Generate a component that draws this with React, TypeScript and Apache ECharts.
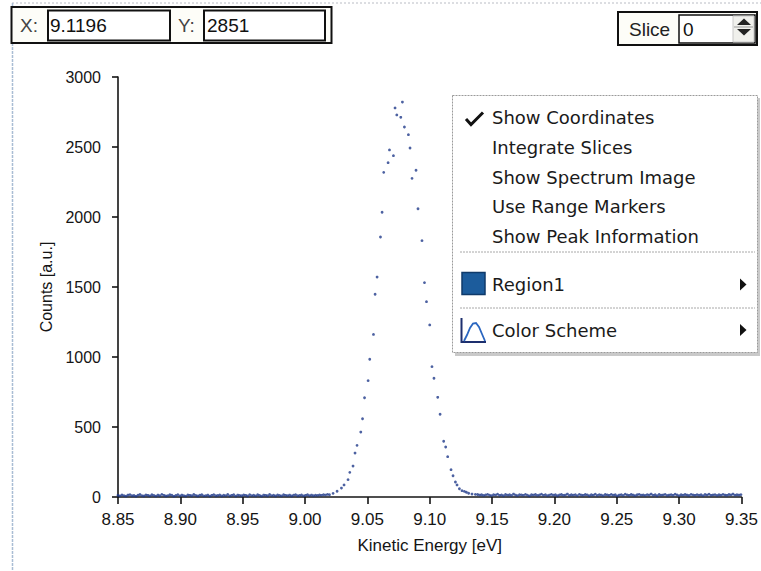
import React, { useEffect, useRef } from "react";
import * as echarts from "echarts";

// ---- data ----
const X_TICK_MIN = 8.85;
const X_TICK_MAX = 9.35;
const X_TICK_STEP = 0.05;
const Y_TICK_MIN = 0;
const Y_TICK_MAX = 3000;
const Y_TICK_STEP = 500;

// instrument sampling grid for the flat baselines
const BASE_LEFT_START = 8.85;
const BASE_RIGHT_START = 9.1384;
const BASE_STEP = 0.0016;

const baselineLeftCounts = [
  12, 8, 15, 10, 6, 14, 17, 9, 11, 5, 13, 18, 10, 7, 15, 12, 8, 16, 11, 6,
  14, 9, 19, 12, 7, 10, 16, 13, 5, 11, 17, 8, 14, 10, 6, 15, 12, 9, 18, 11,
  7, 13, 16, 8, 10, 14, 6, 12, 17, 9, 11, 15, 7, 13, 10, 18, 8, 12, 16, 6,
  14, 11, 9, 15, 12, 7, 17, 10, 13, 8, 16, 11, 6, 14, 12, 9, 18, 10, 13, 7,
  15, 11, 8, 16, 12, 10, 14, 7, 13, 17, 9, 11, 15, 8, 12, 16, 10, 14, 9, 13,
  11, 15, 12, 17, 14, 19, 16,
];

const peakEnergy = [
  9.0225, 9.0257, 9.0292, 9.0313, 9.0345, 9.0359, 9.0385, 9.0401, 9.0417, 9.0447,
  9.0461, 9.0477, 9.0506, 9.0519, 9.0549, 9.0562, 9.0578, 9.0605, 9.0618, 9.0631,
  9.0666, 9.0677, 9.0709, 9.0722, 9.0736, 9.0768, 9.0781, 9.0797, 9.0829, 9.0842,
  9.0858, 9.089, 9.0906, 9.0938, 9.0958, 9.0974, 9.1, 9.1018, 9.1034, 9.1064,
  9.1083, 9.1112, 9.1128, 9.1144, 9.1171, 9.1187, 9.1206, 9.1219, 9.1238, 9.1259,
  9.1278, 9.1294, 9.1312, 9.1339, 9.1366,
];
const peakCounts = [
  26, 41, 64, 86, 124, 176, 221, 314, 369, 464,
  559, 709, 831, 984, 1161, 1448, 1571, 1857, 2034, 2319,
  2388, 2479, 2438, 2779, 2729, 2712, 2821, 2643, 2588, 2493,
  2276, 2334, 2059, 1831, 1531, 1395, 1229, 931, 848, 712,
  591, 398, 357, 288, 195, 152, 107, 86, 59, 45,
  40, 34, 27, 21, 19,
];

const baselineRightCounts = [
  18, 14, 16, 11, 15, 19, 13, 10, 17, 14, 20, 12, 15, 9, 18, 13, 16, 11, 21, 14,
  10, 17, 15, 12, 19, 13, 8, 16, 14, 18, 11, 15, 20, 12, 17, 10, 14, 19, 13, 16,
  9, 15, 18, 12, 14, 21, 11, 16, 13, 17, 10, 19, 14, 12, 18, 15, 9, 16, 13, 20,
  11, 17, 14, 10, 18, 15, 12, 19, 13, 16, 8, 14, 17, 11, 20, 15, 12, 18, 14, 10,
  16, 19, 13, 15, 11, 17, 14, 21, 12, 16, 9, 18, 13, 15, 19, 11, 14, 17, 12, 20,
  15, 10, 16, 13, 18, 14, 11, 19, 15, 12, 17, 13, 16, 10, 18, 14, 20, 12, 15, 17,
  11, 16, 13, 19, 14, 12, 18, 15, 21, 13, 16, 14, 17,
];

const xAxisTitle = "Kinetic Energy [eV]";
const yAxisTitle = "Counts [a.u.]";
const cursorX = "9.1196";
const cursorY = "2851";
const sliceValue = "0";
const menuItems = [
  "Show Coordinates",
  "Integrate Slices",
  "Show Spectrum Image",
  "Use Range Markers",
  "Show Peak Information",
];
const regionLabel = "Region1";
const colorSchemeLabel = "Color Scheme";

const DOT = "#1f3a8a";
const AXIS = "#151515";
const SANS = "'Liberation Sans', Arial, sans-serif";
const MENU_FONT = "'DejaVu Sans', Tahoma, sans-serif";
const MENU_SIZE = 18;

function buildData(): number[][] {
  const pts: number[][] = [];
  baselineLeftCounts.forEach((c, i) => {
    pts.push([+(BASE_LEFT_START + i * BASE_STEP).toFixed(4), c]);
  });
  peakEnergy.forEach((e, i) => pts.push([e, peakCounts[i]]));
  baselineRightCounts.forEach((c, i) => {
    pts.push([+(BASE_RIGHT_START + i * BASE_STEP).toFixed(4), c]);
  });
  return pts;
}

function buildGraphics(): any[] {
  const els: any[] = [];
  // window frame lines
  els.push({
    type: "line",
    shape: { x1: 12, y1: 3, x2: 761, y2: 3 },
    style: { stroke: "#b9bcc4", lineWidth: 1, lineDash: [2, 2] },
    z: 1,
  });
  els.push({
    type: "line",
    shape: { x1: 12.5, y1: 3, x2: 12.5, y2: 571 },
    style: { stroke: "#a9bdd4", lineWidth: 1.5, lineDash: [3, 1] },
    z: 1,
  });

  // X / Y coordinate box
  els.push({
    type: "rect",
    shape: { x: 11.5, y: 7, width: 320, height: 36 },
    style: { fill: "#fdfdf8", stroke: "#111", lineWidth: 2 },
    z: 10,
  });
  els.push({
    type: "rect",
    shape: { x: 48, y: 10.5, width: 122, height: 30 },
    style: { fill: "#ffffff", stroke: "#111", lineWidth: 2 },
    z: 11,
  });
  els.push({
    type: "rect",
    shape: { x: 204, y: 10.5, width: 121, height: 30 },
    style: { fill: "#ffffff", stroke: "#111", lineWidth: 2 },
    z: 11,
  });
  const topText = (t: string, x: number, y: number, color: string) => ({
    type: "text",
    x,
    y,
    z: 12,
    style: {
      text: t,
      fill: color,
      font: `19px ${SANS}`,
      verticalAlign: "middle",
      align: "left",
    },
  });
  els.push(topText("X:", 20, 25.5, "#444"));
  els.push(topText(cursorX, 50, 25.5, "#111"));
  els.push(topText("Y:", 178, 25.5, "#444"));
  els.push(topText(cursorY, 207, 25.5, "#111"));

  // Slice box
  els.push({
    type: "rect",
    shape: { x: 618, y: 12, width: 139, height: 33 },
    style: { fill: "#fdfdf8", stroke: "#111", lineWidth: 2 },
    z: 10,
  });
  els.push({
    type: "rect",
    shape: { x: 679, y: 15, width: 76, height: 28 },
    style: { fill: "#ffffff", stroke: "#111", lineWidth: 1.5 },
    z: 11,
  });
  els.push(topText("Slice", 629, 29, "#222"));
  els.push(topText(sliceValue, 683, 29, "#111"));
  els.push({
    type: "rect",
    shape: { x: 733, y: 16, width: 21, height: 26 },
    style: { fill: "#f0f0ec", stroke: "#c8c8c8", lineWidth: 1 },
    z: 12,
  });
  els.push({
    type: "line",
    shape: { x1: 734, y1: 27, x2: 753, y2: 27 },
    style: { stroke: "#999", lineWidth: 1 },
    z: 13,
  });
  els.push({
    type: "polygon",
    shape: { points: [[737, 25], [751, 25], [744, 18.5]] },
    style: { fill: "#222" },
    z: 13,
  });
  els.push({
    type: "polygon",
    shape: { points: [[737, 29], [751, 29], [744, 35.5]] },
    style: { fill: "#222" },
    z: 13,
  });

  // context menu
  els.push({
    type: "rect",
    shape: { x: 455, y: 98, width: 305, height: 258 },
    style: { fill: "#c9c9c9" },
    z: 19,
  });
  els.push({
    type: "rect",
    shape: { x: 452.5, y: 95.5, width: 305, height: 257 },
    style: { fill: "#ffffff", stroke: "#9a9a9a", lineWidth: 1, lineDash: [2, 1] },
    z: 20,
  });
  els.push({
    type: "polyline",
    shape: { points: [[466, 119], [471, 124.5], [483, 112.5]] },
    style: { stroke: "#111", lineWidth: 3, fill: null },
    z: 21,
  });
  menuItems.forEach((t, i) => {
    els.push({
      type: "text",
      x: 492,
      y: 117.5 + i * 29.8,
      z: 21,
      style: {
        text: t,
        fill: "#1a1a1a",
        font: `${MENU_SIZE}px ${MENU_FONT}`,
        verticalAlign: "middle",
        align: "left",
      },
    });
  });
  [252, 308].forEach((yy) => {
    els.push({
      type: "line",
      shape: { x1: 460, y1: yy, x2: 755, y2: yy },
      style: { stroke: "#a8a8a8", lineWidth: 1, lineDash: [2, 1] },
      z: 21,
    });
  });
  // Region1 row
  els.push({
    type: "rect",
    shape: { x: 462, y: 272.5, width: 23, height: 22 },
    style: { fill: "#1c5c9c", stroke: "#0f3a6a", lineWidth: 1.5 },
    z: 21,
  });
  els.push({
    type: "text",
    x: 492,
    y: 284.5,
    z: 21,
    style: {
      text: regionLabel,
      fill: "#1a1a1a",
      font: `${MENU_SIZE}px ${MENU_FONT}`,
      verticalAlign: "middle",
      align: "left",
    },
  });
  els.push({
    type: "polygon",
    shape: { points: [[740, 278.5], [740, 290.5], [746.5, 284.5]] },
    style: { fill: "#111" },
    z: 21,
  });
  // Color Scheme row
  els.push({
    type: "polyline",
    shape: { points: [[461.5, 318], [461.5, 342], [486, 342]] },
    style: { stroke: "#1d2f6e", lineWidth: 2, fill: null },
    z: 21,
  });
  els.push({
    type: "polyline",
    shape: {
      points: [[464, 341], [467, 335], [470, 328], [473, 323.5], [476, 323], [479, 327], [482, 334], [485, 341]],
    },
    style: { stroke: "#2a66c0", lineWidth: 1.8, fill: null },
    z: 21,
  });
  els.push({
    type: "text",
    x: 492,
    y: 330,
    z: 21,
    style: {
      text: colorSchemeLabel,
      fill: "#1a1a1a",
      font: `${MENU_SIZE}px ${MENU_FONT}`,
      verticalAlign: "middle",
      align: "left",
    },
  });
  els.push({
    type: "polygon",
    shape: { points: [[740, 324], [740, 336], [746.5, 330]] },
    style: { fill: "#111" },
    z: 21,
  });
  return els;
}

export default function App() {
  const ref = useRef<HTMLDivElement>(null);
  useEffect(() => {
    if (!ref.current) return;
    const chart = echarts.init(ref.current, undefined, { renderer: "svg" });
    chart.setOption({
      animation: false,
      backgroundColor: "#ffffff",
      grid: { left: 118, right: 19, top: 77, bottom: 74 },
      xAxis: {
        type: "value",
        min: X_TICK_MIN,
        max: X_TICK_MAX,
        interval: X_TICK_STEP,
        name: xAxisTitle,
        nameLocation: "middle",
        nameGap: 40,
        nameTextStyle: { color: AXIS, fontSize: 17, fontFamily: SANS },
        axisLine: { show: true, onZero: false, lineStyle: { color: AXIS, width: 1.6 } },
        axisTick: { show: true, length: 7, lineStyle: { color: AXIS, width: 1.6 } },
        axisLabel: {
          color: AXIS,
          fontSize: 17,
          fontFamily: SANS,
          margin: 14,
          formatter: (v: number) => v.toFixed(2),
        },
        splitLine: { show: false },
      },
      yAxis: {
        type: "value",
        min: Y_TICK_MIN,
        max: Y_TICK_MAX,
        interval: Y_TICK_STEP,
        name: yAxisTitle,
        nameLocation: "middle",
        nameGap: 59,
        nameTextStyle: { color: AXIS, fontSize: 16, fontFamily: SANS },
        axisLine: { show: true, lineStyle: { color: AXIS, width: 1.6 } },
        axisTick: { show: true, length: 6, lineStyle: { color: AXIS, width: 1.6 } },
        axisLabel: {
          color: AXIS,
          fontSize: 16,
          fontFamily: SANS,
          margin: 17,
          formatter: (v: number) => String(Math.round(v)),
        },
        splitLine: { show: false },
      },
      series: [
        {
          type: "scatter",
          data: buildData(),
          symbol: "circle",
          symbolSize: 2.8,
          itemStyle: { color: DOT },
          silent: true,
          z: 5,
        },
      ],
      graphic: buildGraphics(),
    });
    return () => chart.dispose();
  }, []);
  return (
    <div
      ref={ref}
      style={{ position: "fixed", left: 0, top: 0, width: 761, height: 571 }}
    />
  );
}
